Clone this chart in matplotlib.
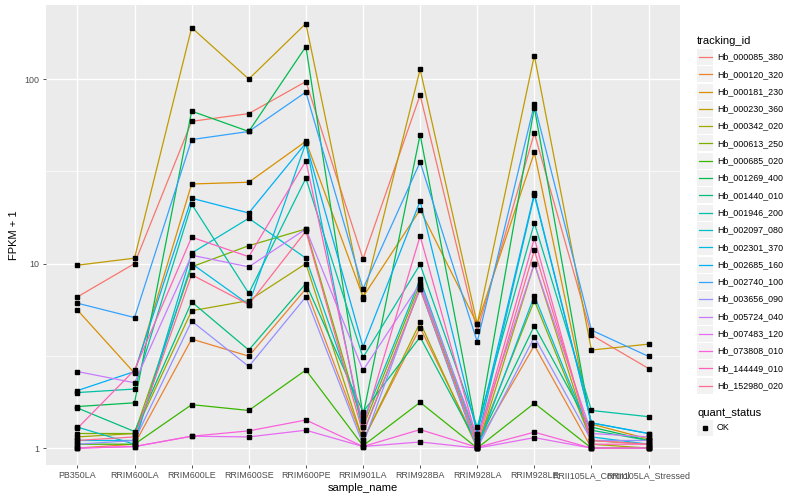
import matplotlib
matplotlib.use("Agg")
import matplotlib.pyplot as plt
from matplotlib.patches import Rectangle
from matplotlib.lines import Line2D

plt.rcParams["font.family"] = ["Liberation Sans", "DejaVu Sans"]

SAMPLES = ["PB350LA", "RRIM600LA", "RRIM600LE", "RRIM600SE", "RRIM600PE",
           "RRIM901LA", "RRIM928BA", "RRIM928LA", "RRIM928LE",
           "RRII105LA_Control", "RRII105LA_Stressed"]

TRACKING_IDS = ["Hb_000085_380", "Hb_000120_320", "Hb_000181_230", "Hb_000230_360",
                "Hb_000342_020", "Hb_000613_250", "Hb_000685_020", "Hb_001269_400",
                "Hb_001440_010", "Hb_001946_200", "Hb_002097_080", "Hb_002301_370",
                "Hb_002685_160", "Hb_002740_100", "Hb_003656_090", "Hb_005724_040",
                "Hb_007483_120", "Hb_073808_010", "Hb_144449_010", "Hb_152980_020"]

COLORS = ["#F8766D", "#EA8331", "#D89000", "#C09B00", "#A3A500", "#7CAE00",
          "#39B600", "#00BB4E", "#00BF7D", "#00C1A3", "#00BFC4", "#00BAE0",
          "#00B0F6", "#35A2FF", "#9590FF", "#C77CFF", "#E76BF3", "#FA62DB",
          "#FF62BC", "#FF6C91"]

# FPKM + 1 per sample, one list per tracking id
hb_000085_380 = [6.6, 10.0, 59, 65, 97, 10.6, 82, 4.3, 51, 4.1, 2.7]
hb_000120_320 = [1.0, 1.05, 3.9, 3.15, 7.3, 1.1, 4.5, 1.05, 3.6, 1.0, 1.0]
hb_000181_230 = [5.6, 2.55, 27, 27.6, 46, 6.6, 19.6, 4.7, 40, 1.35, 1.12]
hb_000230_360 = [9.8, 10.7, 190, 100, 200, 6.4, 113, 4.7, 134, 3.4, 3.66]
hb_000342_020 = [1.15, 1.2, 5.55, 6.3, 10.0, 1.1, 4.8, 1.0, 10.0, 1.05, 1.0]
hb_000613_250 = [1.2, 1.2, 9.6, 12.5, 15.4, 1.3, 7.8, 1.05, 6.3, 1.1, 1.05]
hb_000685_020 = [1.05, 1.05, 1.72, 1.6, 2.65, 1.03, 1.77, 1.0, 1.75, 1.0, 1.0]
hb_001269_400 = [1.68, 1.76, 67, 52, 150, 1.5, 50, 1.2, 70, 1.3, 1.1]
hb_001440_010 = [1.65, 1.23, 6.2, 3.4, 7.8, 1.57, 4.0, 1.05, 4.6, 1.25, 1.1]
hb_001946_200 = [2.0, 2.09, 21, 6.9, 29, 3.1, 9.9, 1.3, 16.6, 1.6, 1.48]
hb_002097_080 = [1.3, 1.05, 11.4, 17.6, 10.7, 1.4, 8.2, 1.1, 23.5, 1.37, 1.2]
hb_002301_370 = [1.1, 1.1, 10.0, 6.0, 45, 1.2, 7.3, 1.0, 6.7, 1.15, 1.05]
hb_002685_160 = [2.05, 2.6, 22.6, 18.8, 45, 3.54, 21.8, 1.2, 24, 1.37, 1.2]
hb_002740_100 = [6.1, 5.1, 47, 52, 85, 7.3, 35.5, 3.77, 73, 4.36, 3.14]
hb_003656_090 = [1.05, 1.1, 4.88, 2.77, 6.6, 1.05, 7.5, 1.0, 4.0, 1.1, 1.1]
hb_005724_040 = [2.6, 2.26, 11.1, 9.6, 15.4, 2.64, 7.8, 1.15, 10.0, 1.2, 1.15]
hb_007483_120 = [1.0, 1.02, 1.16, 1.15, 1.25, 1.02, 1.08, 1.0, 1.14, 1.0, 1.0]
hb_073808_010 = [1.0, 1.02, 1.16, 1.24, 1.42, 1.02, 1.26, 1.01, 1.22, 1.0, 1.0]
hb_144449_010 = [1.28, 2.65, 13.9, 10.9, 36, 1.3, 14.1, 1.1, 13.7, 1.05, 1.05]
hb_152980_020 = [1.1, 1.15, 8.7, 6.0, 15, 1.2, 7.3, 1.05, 11.8, 1.1, 1.05]

SERIES = [hb_000085_380, hb_000120_320, hb_000181_230, hb_000230_360,
          hb_000342_020, hb_000613_250, hb_000685_020, hb_001269_400,
          hb_001440_010, hb_001946_200, hb_002097_080, hb_002301_370,
          hb_002685_160, hb_002740_100, hb_003656_090, hb_005724_040,
          hb_007483_120, hb_073808_010, hb_144449_010, hb_152980_020]

W, H = 800, 500


def fx(px):
    return px / W


def fy(py):
    return 1 - py / H


fig = plt.figure(figsize=(8, 5), dpi=100)
ax = fig.add_axes([fx(46), fy(465), fx(680) - fx(46), fy(5) - fy(465)])
ax.set_facecolor("#EBEBEB")
for s in ax.spines.values():
    s.set_visible(False)

x = list(range(len(SAMPLES)))
for vals, col in zip(SERIES, COLORS):
    ax.plot(x, vals, color=col, lw=0.9, zorder=3)
for vals in SERIES:
    ax.plot(x, vals, ls="none", marker="s", ms=2.6, color="black", zorder=4)

ax.set_yscale("log")
ax.set_ylim(0.81, 252)
ax.set_xlim(-0.55, len(SAMPLES) - 0.45)
ax.set_yticks([1, 10, 100])
ax.set_yticklabels(["1", "10", "100"])
ax.set_yticks([10 ** 0.5, 10 ** 1.5], minor=True)
ax.yaxis.set_minor_formatter(plt.NullFormatter())
ax.set_xticks(x)
ax.set_xticklabels(SAMPLES)

ax.grid(True, which="major", color="white", lw=1.0, zorder=0)
ax.grid(True, which="minor", axis="y", color="white", lw=0.5, zorder=0)
ax.set_axisbelow(True)
ax.tick_params(which="major", length=2.5, width=0.6, color="#333333",
               labelsize=6.4, labelcolor="#4D4D4D", pad=2)
ax.tick_params(which="minor", length=0)

ax.set_xlabel("sample_name", fontsize=8, labelpad=2)
ax.set_ylabel("FPKM + 1", fontsize=8, labelpad=4)

# legend drawn the ggplot way: grey key boxes
fig.text(fx(697), fy(41), "tracking_id", fontsize=8, va="center", ha="left")
for i, (tid, col) in enumerate(zip(TRACKING_IDS, COLORS)):
    yc = 57 + i * 17.3
    fig.add_artist(Rectangle((fx(697), fy(yc + 8)), fx(16), 16 / H,
                             transform=fig.transFigure, color="#F2F2F2", lw=0))
    fig.add_artist(Line2D([fx(698.5), fx(711.5)], [fy(yc), fy(yc)],
                          transform=fig.transFigure, color=col, lw=0.9))
    fig.text(fx(717), fy(yc), tid, fontsize=6.4, va="center", ha="left")

fig.text(fx(697), fy(412.7), "quant_status", fontsize=8, va="center", ha="left")
fig.add_artist(Rectangle((fx(697), fy(427.7 + 8)), fx(16), 16 / H,
                         transform=fig.transFigure, color="#F2F2F2", lw=0))
fig.add_artist(Line2D([fx(705)], [fy(427.7)], transform=fig.transFigure,
                      ls="none", marker="s", ms=2.6, color="black"))
fig.text(fx(717), fy(427.7), "OK", fontsize=6.4, va="center", ha="left")

fig.savefig("out.png", dpi=100)
